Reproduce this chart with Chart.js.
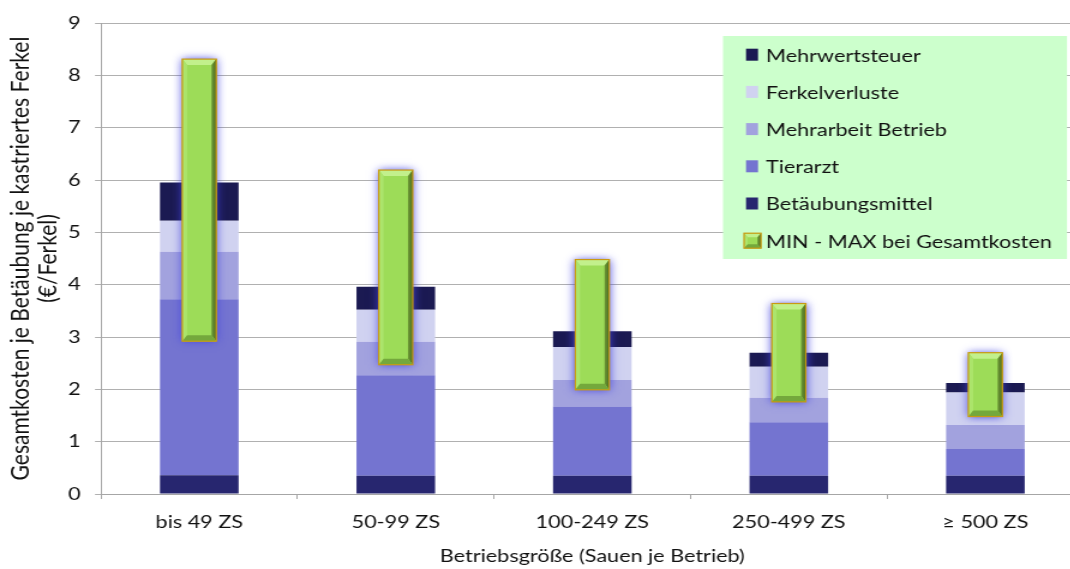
<!DOCTYPE html>
<html lang="de">
<head>
<meta charset="utf-8">
<title>Kosten der Betäubung je kastriertes Ferkel</title>
<script src="https://cdn.jsdelivr.net/npm/chart.js@4.4.1/dist/chart.umd.min.js"></script>
<style>
  html, body { margin: 0; padding: 0; background: #fff; overflow: hidden; }
  #wrap { width: 1070px; height: 569px; overflow: hidden; position: relative; }
  #stage { position: absolute; left: 0; top: 0; transform-origin: 0 0; }
  canvas { display: block; }
</style>
</head>
<body>
<div id="wrap"><div id="stage"><canvas id="chart"></canvas></div></div>
<script>
// Categories: farm size (sows per farm)
const categories = ['bis 49 ZS', '50-99 ZS', '100-249 ZS', '250-499 ZS', '\u2265 500 ZS'];

// Cost components per castrated piglet (€/Ferkel), bottom to top
const betaeubungsmittel = [0.36, 0.35, 0.35, 0.35, 0.35];
const tierarzt          = [3.36, 1.92, 1.32, 1.02, 0.51];
const mehrarbeit        = [0.91, 0.64, 0.51, 0.47, 0.46];
const ferkelverluste    = [0.59, 0.61, 0.63, 0.59, 0.62];
const mehrwertsteuer    = [0.73, 0.44, 0.30, 0.27, 0.18];

// Range of total costs
const minGesamtkosten = [2.92, 2.47, 1.99, 1.76, 1.48];
const maxGesamtkosten = [8.31, 6.19, 4.48, 3.64, 2.70];

// Value axis ticks
const yTicks = [0, 1, 2, 3, 4, 5, 6, 7, 8, 9];

// Horizontal stretch of the drawing
const SX = 1.2;
const W = Math.ceil(1090 / SX);
const H = 569;

const canvas = document.getElementById('chart');
canvas.width = W;
canvas.height = H;
canvas.style.width = W + 'px';
canvas.style.height = H + 'px';
document.getElementById('stage').style.transform = 'scaleX(' + SX + ')';

const FONT = 'Lato';
const TEXT = '#111';
const RANGE_LABEL = 'MIN - MAX bei Gesamtkosten';

const COLORS = {
  mwst: '#1b1a52',
  verluste: '#d0d2f0',
  mehrarbeit: '#a2a2de',
  tierarzt: '#7474d0',
  mittel: '#27266f'
};

function bevelBox(ctx, x0, y0, x1, y1, bx, by) {
  // face
  ctx.fillStyle = '#9ddc58';
  ctx.fillRect(x0, y0, x1 - x0, y1 - y0);
  // top bevel
  ctx.fillStyle = '#c2f08c';
  ctx.beginPath();
  ctx.moveTo(x0, y0); ctx.lineTo(x1, y0); ctx.lineTo(x1 - bx, y0 + by); ctx.lineTo(x0 + bx, y0 + by); ctx.closePath(); ctx.fill();
  // left bevel
  ctx.fillStyle = '#ace46c';
  ctx.beginPath();
  ctx.moveTo(x0, y0); ctx.lineTo(x0 + bx, y0 + by); ctx.lineTo(x0 + bx, y1 - by); ctx.lineTo(x0, y1); ctx.closePath(); ctx.fill();
  // right bevel
  const gr = ctx.createLinearGradient(x1 - bx, 0, x1, 0);
  gr.addColorStop(0, '#6e9a36');
  gr.addColorStop(1, '#4a6a22');
  ctx.fillStyle = gr;
  ctx.beginPath();
  ctx.moveTo(x1, y0); ctx.lineTo(x1, y1); ctx.lineTo(x1 - bx, y1 - by); ctx.lineTo(x1 - bx, y0 + by); ctx.closePath(); ctx.fill();
  // bottom bevel
  ctx.fillStyle = '#74a83c';
  ctx.beginPath();
  ctx.moveTo(x0, y1); ctx.lineTo(x0 + bx, y1 - by); ctx.lineTo(x1 - bx, y1 - by); ctx.lineTo(x1, y1); ctx.closePath(); ctx.fill();
  // gold rim
  ctx.strokeStyle = '#c99a12';
  ctx.lineWidth = 1.2;
  ctx.strokeRect(x0, y0, x1 - x0, y1 - y0);
}

// Glow + bevel for the min-max range bars
const rangeBarStyle = {
  id: 'rangeBarStyle',
  beforeDatasetDraw(chart, args) {
    if (args.meta.label !== RANGE_LABEL) return;
    const ctx = chart.ctx;
    ctx.save();
    ctx.shadowColor = 'rgba(70, 70, 225, 1)';
    ctx.shadowBlur = 8;
  },
  afterDatasetDraw(chart, args) {
    if (args.meta.label !== RANGE_LABEL) return;
    const ctx = chart.ctx;
    ctx.restore();
    ctx.save();
    args.meta.data.forEach(el => {
      const p = el.getProps(['x', 'y', 'base', 'width'], true);
      const x0 = p.x - p.width / 2, x1 = p.x + p.width / 2;
      const y0 = Math.min(p.y, p.base), y1 = Math.max(p.y, p.base);
      bevelBox(ctx, x0, y0, x1, y1, 4, 6);
    });
    ctx.restore();
  }
};

// Legend panel on a light green ground
const legendPanel = {
  id: 'legendPanel',
  afterDraw(chart) {
    const ctx = chart.ctx;
    const items = [
      ['Mehrwertsteuer', COLORS.mwst],
      ['Ferkelverluste', COLORS.verluste],
      ['Mehrarbeit Betrieb', COLORS.mehrarbeit],
      ['Tierarzt', COLORS.tierarzt],
      ['Betäubungsmittel', COLORS.mittel],
      [RANGE_LABEL, null]
    ];
    const bx = 723 / SX, by = 36, bw = (1067 - 723) / SX, bh = 223;
    ctx.save();
    ctx.fillStyle = '#ccffcc';
    ctx.fillRect(bx, by, bw, bh);
    ctx.font = '18px ' + FONT;
    ctx.textBaseline = 'middle';
    ctx.textAlign = 'left';
    items.forEach((it, i) => {
      const cy = 54.7 + i * 37.2;
      if (it[1]) {
        ctx.fillStyle = it[1];
        ctx.fillRect(746 / SX, cy - 6, 12 / SX, 12);
      } else {
        bevelBox(ctx, 744 / SX, cy - 7.5, 761 / SX, cy + 7.5, 3, 4);
      }
      ctx.fillStyle = TEXT;
      ctx.fillText(it[0], 766 / SX, cy + 1);
    });
    ctx.restore();
  }
};

const costBar = { stack: 'kosten', categoryPercentage: 1.0, barPercentage: 0.4, borderWidth: 0, order: 1 };

new Chart(canvas, {
  type: 'bar',
  data: {
    labels: categories,
    datasets: [
      Object.assign({ label: 'Betäubungsmittel', data: betaeubungsmittel, backgroundColor: COLORS.mittel }, costBar),
      Object.assign({ label: 'Tierarzt', data: tierarzt, backgroundColor: COLORS.tierarzt }, costBar),
      Object.assign({ label: 'Mehrarbeit Betrieb', data: mehrarbeit, backgroundColor: COLORS.mehrarbeit }, costBar),
      Object.assign({ label: 'Ferkelverluste', data: ferkelverluste, backgroundColor: COLORS.verluste }, costBar),
      Object.assign({ label: 'Mehrwertsteuer', data: mehrwertsteuer, backgroundColor: COLORS.mwst }, costBar),
      {
        label: RANGE_LABEL,
        data: minGesamtkosten.map((v, i) => [v, maxGesamtkosten[i]]),
        backgroundColor: '#9ddc58',
        borderWidth: 0,
        stack: 'spanne',
        grouped: false,
        order: 0,
        categoryPercentage: 1.0,
        barPercentage: 0.173
      }
    ]
  },
  options: {
    responsive: false,
    animation: false,
    devicePixelRatio: 1,
    layout: { padding: { top: 23, right: W - 903, bottom: 0, left: 0 } },
    plugins: {
      legend: { display: false },
      tooltip: { enabled: false }
    },
    scales: {
      x: {
        stacked: true,
        offset: true,
        afterFit(scale) { scale.height = 75; },
        grid: { display: true, drawOnChartArea: false, drawTicks: true, tickLength: 5, color: '#a6a6a6', offset: true },
        border: { color: '#a6a6a6', width: 1 },
        ticks: { color: TEXT, font: { family: FONT, size: 18 }, padding: 12, maxRotation: 0, autoSkip: false },
        title: {
          display: true,
          text: 'Betriebsgröße (Sauen je Betrieb)',
          color: TEXT,
          font: { family: FONT, size: 18 },
          padding: { top: 0, bottom: 2 }
        }
      },
      y: {
        stacked: true,
        min: 0,
        max: 9,
        afterFit(scale) { scale.width = 101 / SX; },
        afterBuildTicks(scale) { scale.ticks = yTicks.map(v => ({ value: v })); },
        grid: { color: '#b0b0b0', lineWidth: 1, tickLength: 5 },
        border: { color: '#a6a6a6', width: 1 },
        ticks: { color: TEXT, font: { family: FONT, size: 18 }, padding: 12 },
        title: {
          display: true,
          text: ['Gesamtkosten je Betäubung je kastriertes Ferkel', '(€/Ferkel)'],
          color: TEXT,
          font: { family: FONT, size: 21, lineHeight: 1.12 },
          padding: { top: 5, bottom: 0 }
        }
      }
    }
  },
  plugins: [rangeBarStyle, legendPanel]
});
</script>
</body>
</html>
